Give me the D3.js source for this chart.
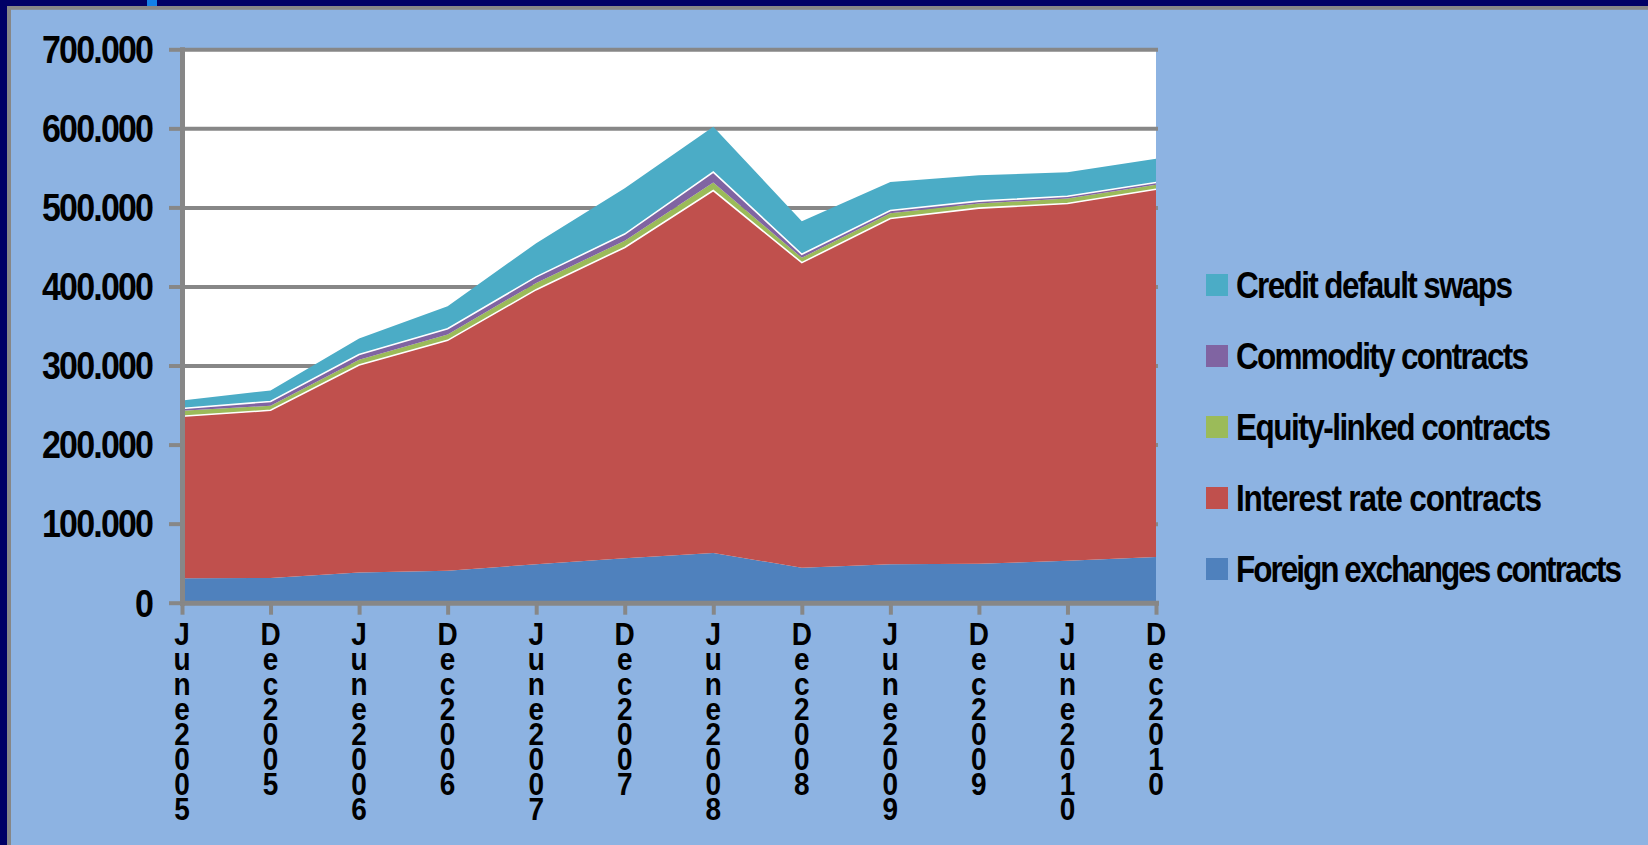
<!DOCTYPE html>
<html>
<head>
<meta charset="utf-8">
<script src="https://cdn.jsdelivr.net/npm/d3@7"></script>
<style>
  html, body { margin: 0; padding: 0; background: #8DB3E2; }
  svg { display: block; }
  text { font-family: "Liberation Sans", Arial, sans-serif; font-weight: bold; fill: #000; }
</style>
</head>
<body>
<svg id="chart" width="1648" height="845"></svg>
<script>
// ---- data (notional amounts outstanding, USD billions) ----
const categories = ["June 2005","Dec 2005","June 2006","Dec 2006","June 2007","Dec 2007",
                    "June 2008","Dec 2008","June 2009","Dec 2009","June 2010","Dec 2010"];
const foreignExchange = [31081, 31364, 38127, 40271, 48645, 56238, 62983, 44200, 48732, 49181, 53153, 57796];
const interestRate    = [204795, 211970, 262526, 291582, 347312, 393138, 458304, 385896, 437228, 449875, 451831, 465260];
const equityLinked    = [6783, 5793, 6782, 7488, 8590, 8469, 10177, 6155, 6584, 5937, 6260, 5635];
const commodity       = [2940, 5434, 6394, 7115, 7567, 8455, 13229, 4427, 3619, 2944, 2852, 2922];
const creditDefault   = [10211, 13908, 20352, 28650, 42580, 57894, 57325, 41883, 36046, 32693, 30261, 29898];
const seriesNames = ["Foreign exchanges contracts","Interest rate contracts","Equity-linked contracts",
                     "Commodity contracts","Credit default swaps"];
const seriesColors = ["#4F81BD","#C0504D","#9BBB59","#8064A2","#4BACC6"];
const yTicks = [0, 100000, 200000, 300000, 400000, 500000, 600000, 700000];

// ---- build table ----
const seriesValues = [foreignExchange, interestRate, equityLinked, commodity, creditDefault];
const keys = seriesNames;
const table = categories.map((c, i) => {
  const row = { cat: c };
  keys.forEach((k, j) => row[k] = seriesValues[j][i]);
  return row;
});

const svg = d3.select("#chart");
const W = 1648, H = 845;

// background + frame
svg.append("rect").attr("x",0).attr("y",0).attr("width",W).attr("height",H).attr("fill","#8DB3E2");
svg.append("rect").attr("x",0).attr("y",0).attr("width",W).attr("height",6).attr("fill","#000066");
svg.append("rect").attr("x",0).attr("y",0).attr("width",7).attr("height",H).attr("fill","#000066");
svg.append("rect").attr("x",7).attr("y",6).attr("width",W-7).attr("height",3.8).attr("fill","#878787");
svg.append("rect").attr("x",7).attr("y",6).attr("width",4).attr("height",H-6).attr("fill","#878787");
svg.append("rect").attr("x",147).attr("y",0).attr("width",10).attr("height",6).attr("fill","#1380E8");

// scales
const x = d3.scalePoint().domain(categories).range([182, 1156]);
const y = d3.scaleLinear().domain([0, 700000]).range([602.7, 49.3]);

// plot area
svg.append("rect").attr("x",182).attr("y",49.3).attr("width",1156-182).attr("height",602.7-49.3).attr("fill","#fff");

// gridlines
const grid = svg.append("g").attr("transform","translate(182,0)")
  .call(d3.axisLeft(y).tickValues(yTicks.filter(v => v > 0)).tickSize(-(1158-182)).tickFormat(""));
grid.select(".domain").remove();
grid.selectAll(".tick line").attr("stroke","#878787").attr("stroke-width",4);

// stacked areas
const stack = d3.stack().keys(keys);
const layers = stack(table);
const area = d3.area()
  .x(d => x(d.data.cat))
  .y0(d => y(d[0]))
  .y1(d => y(d[1]));
svg.append("g").selectAll("path").data(layers).join("path")
  .attr("d", area)
  .attr("fill", (d, i) => seriesColors[i]);

// thin white edges on top of interest-rate and commodity layers
const topLine = d3.line().x(d => x(d.data.cat)).y(d => y(d[1]));
[1, 3].forEach(i => {
  svg.append("path").attr("d", topLine(layers[i]))
    .attr("fill","none").attr("stroke","#fff").attr("stroke-width",1.6);
});

// y axis
const fmt = d3.formatLocale({decimal: ",", thousands: ".", grouping: [3], currency: ["", ""]}).format(",");
const yAxis = svg.append("g").attr("transform","translate(182,0)")
  .call(d3.axisLeft(y).tickValues(yTicks).tickSizeInner(13).tickSizeOuter(0).tickFormat(""));
yAxis.select(".domain").attr("stroke","#878787").attr("stroke-width",5).attr("stroke-linecap","square");
yAxis.selectAll(".tick line").attr("stroke","#878787").attr("stroke-width",4);

svg.append("g").selectAll("text").data(yTicks).join("text")
  .attr("transform", v => `translate(154,${y(v) + 13.8}) scale(1,1.15)`)
  .attr("text-anchor","end")
  .attr("font-size", 34)
  .each(function(v) {
    const t = d3.select(this).text(fmt(v));
    if (v > 0) t.attr("textLength", 112).attr("lengthAdjust","spacing");
  });

// x axis
const xAxis = svg.append("g").attr("transform","translate(0,602.7)")
  .call(d3.axisBottom(x).tickSizeInner(12).tickSizeOuter(0).tickFormat(""));
xAxis.select(".domain").attr("stroke","#878787").attr("stroke-width",5).attr("stroke-linecap","square");
xAxis.selectAll(".tick line").attr("stroke","#878787").attr("stroke-width",4);

// stacked vertical category labels (one text per label, one line per character)
const xl = svg.append("g");
categories.forEach(c => {
  const chars = c.replace(/ /g, "").split("");
  const t = xl.append("text")
    .attr("transform", `translate(${x(c)},645) scale(1,1.15)`)
    .attr("text-anchor","middle")
    .attr("font-size", 28);
  chars.forEach((ch, i) => {
    t.append("tspan").attr("x", 0).attr("dy", i === 0 ? 0 : 25 / 1.15).text(ch);
  });
});

// legend
const legendOrder = [4, 3, 2, 1, 0];
const legendWidths = [277, 293, 315, 306, 386];
const lg = svg.append("g");
legendOrder.forEach((si, r) => {
  const cy = 285 + r * 71;
  lg.append("rect").attr("x",1206).attr("y",cy - 11).attr("width",22).attr("height",22)
    .attr("fill", seriesColors[si]);
  lg.append("text")
    .attr("transform", `translate(1236,${cy + 13}) scale(1,1.15)`)
    .attr("font-size", 31.5)
    .attr("textLength", legendWidths[r]).attr("lengthAdjust","spacing")
    .text(seriesNames[si]);
});
</script>
</body>
</html>
